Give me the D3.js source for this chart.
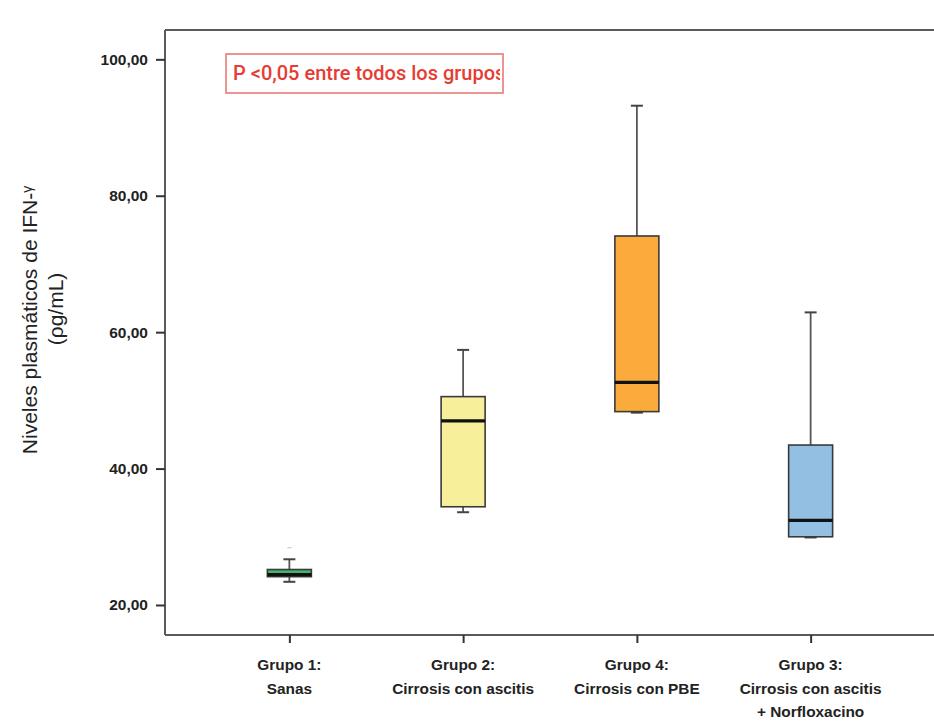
<!DOCTYPE html>
<html>
<head>
<meta charset="utf-8">
<script src="https://cdn.jsdelivr.net/npm/d3@7"></script>
<style>
  html, body { margin: 0; padding: 0; background: #fff; }
  svg { display: block; }
</style>
</head>
<body>
<svg id="chart" width="934" height="722"></svg>
<script>
// Plasma IFN-gamma levels by group (box plot summaries, pg/mL)
const groups = ["Grupo 1", "Grupo 2", "Grupo 4", "Grupo 3"];
const groupLabels = [
  ["Grupo 1:", "Sanas"],
  ["Grupo 2:", "Cirrosis con ascitis"],
  ["Grupo 4:", "Cirrosis con PBE"],
  ["Grupo 3:", "Cirrosis con ascitis", "+ Norfloxacino"]
];
const whiskerLow  = [23.4, 33.6, 48.2, 29.9];
const q1          = [24.15, 34.4, 48.35, 30.0];
const median      = [24.45, 47.0, 52.65, 32.4];
const q3          = [25.2, 50.55, 74.1, 43.45];
const whiskerHigh = [26.7, 57.4, 93.2, 62.9];
const outliers    = [[28.4], [], [], []];
const boxColors   = ["#46b36b", "#f7ef9a", "#fbab3c", "#93bfe2"];
const yTicks      = [20, 40, 60, 80, 100];
const annotation  = "P <0,05 entre todos los grupos";

const svg = d3.select("#chart");
const plot = { left: 165, right: 934, top: 30, bottom: 635 };

const y = d3.scaleLinear().domain([15.6, 104.3]).range([plot.bottom, plot.top]);
const x = d3.scalePoint().domain(groups).range([166, plot.right]).padding(0.71);

const esFormat = d3.formatLocale({ decimal: ",", thousands: ".", grouping: [3], currency: ["", ""] }).format(".2f");

// Frame: top rule
svg.append("line").attr("x1", plot.left).attr("x2", plot.right).attr("y1", plot.top).attr("y2", plot.top)
  .attr("stroke", "#5a5a5a").attr("stroke-width", 2);

// Y axis
const yAxis = svg.append("g")
  .attr("transform", `translate(${plot.left},0)`)
  .call(d3.axisLeft(y).tickValues(yTicks).tickFormat(esFormat).tickSize(9).tickSizeOuter(0));
yAxis.select(".domain").attr("stroke", "#5a5a5a").attr("stroke-width", 2)
  .attr("d", `M0,${plot.top}V${plot.bottom}`);
yAxis.selectAll(".tick line").attr("stroke", "#333").attr("stroke-width", 2);
yAxis.selectAll(".tick text")
  .attr("x", -17)
  .attr("font-family", "Arial, 'Liberation Sans', sans-serif")
  .attr("font-weight", "bold").attr("font-size", 15.5).attr("fill", "#222");

// X axis
const xAxis = svg.append("g")
  .attr("transform", `translate(0,${plot.bottom})`)
  .call(d3.axisBottom(x).tickSize(8).tickSizeOuter(0).tickFormat(""));
xAxis.select(".domain").attr("stroke", "#5a5a5a").attr("stroke-width", 2)
  .attr("d", `M${plot.left},0H${plot.right}`);
xAxis.selectAll(".tick line").attr("stroke", "#333").attr("stroke-width", 2);

// Category labels in a narrow bold face, sized so the longest line spans ~142px
const labelFont = "'Liberation Sans Narrow', 'Arial Narrow', Arial, sans-serif";
const probe = svg.append("text").attr("font-family", labelFont).attr("font-weight", "bold")
  .attr("font-size", 15).text("Cirrosis con ascitis");
const probeW = probe.node().getComputedTextLength();
probe.remove();
const labelSize = Math.min(18, 15 * 142 / probeW);

const labelG = svg.append("g")
  .attr("font-family", labelFont)
  .attr("font-weight", "bold").attr("font-size", labelSize).attr("fill", "#222")
  .attr("text-anchor", "middle");
groups.forEach((g, i) => {
  const t = labelG.append("text").attr("x", x(g)).attr("y", 670);
  groupLabels[i].forEach((line, j) => {
    t.append("tspan").attr("x", x(g)).attr("dy", j === 0 ? 0 : 23.5).text(line);
  });
});

// Boxes
const boxW = 44, capW = 12;
const boxes = svg.append("g");
groups.forEach((g, i) => {
  const cx = x(g);
  const b = boxes.append("g");
  // whiskers
  b.append("line").attr("x1", cx).attr("x2", cx)
    .attr("y1", y(q3[i])).attr("y2", y(whiskerHigh[i]))
    .attr("stroke", "#555").attr("stroke-width", 1.8);
  b.append("line").attr("x1", cx).attr("x2", cx)
    .attr("y1", y(q1[i])).attr("y2", y(whiskerLow[i]))
    .attr("stroke", "#555").attr("stroke-width", 1.8);
  b.append("line").attr("x1", cx - capW / 2).attr("x2", cx + capW / 2)
    .attr("y1", y(whiskerHigh[i])).attr("y2", y(whiskerHigh[i]))
    .attr("stroke", "#444").attr("stroke-width", 2);
  b.append("line").attr("x1", cx - capW / 2).attr("x2", cx + capW / 2)
    .attr("y1", y(whiskerLow[i])).attr("y2", y(whiskerLow[i]))
    .attr("stroke", "#444").attr("stroke-width", 2);
  // box
  b.append("rect")
    .attr("x", cx - boxW / 2).attr("width", boxW)
    .attr("y", y(q3[i])).attr("height", y(q1[i]) - y(q3[i]))
    .attr("fill", boxColors[i]).attr("stroke", "#3a3a3a").attr("stroke-width", 1.6);
  // median
  b.append("line").attr("x1", cx - boxW / 2).attr("x2", cx + boxW / 2)
    .attr("y1", y(median[i])).attr("y2", y(median[i]))
    .attr("stroke", "#111").attr("stroke-width", 3.2);
  // outliers
  outliers[i].forEach(v => {
    b.append("line").attr("x1", cx - 2).attr("x2", cx + 2)
      .attr("y1", y(v)).attr("y2", y(v))
      .attr("stroke", "#c8c8c8").attr("stroke-width", 1.2);
  });
});

// Y axis title
const titleG = svg.append("g")
  .attr("font-family", "Arial, 'Liberation Sans', sans-serif")
  .attr("font-size", 21).attr("fill", "#222").attr("text-anchor", "middle");
const t1 = titleG.append("text").attr("transform", "translate(37,320) rotate(-90)");
t1.append("tspan").text("Niveles plasmáticos de IFN-");
t1.append("tspan").attr("font-size", 14).attr("dy", -5).text("γ");
titleG.append("text").attr("transform", "translate(63,309) rotate(-90)").text("(ρg/mL)");

// Significance note
const note = { x: 226, y: 54, w: 277, h: 39 };
svg.append("clipPath").attr("id", "noteClip")
  .append("rect").attr("x", note.x).attr("y", note.y).attr("width", note.w - 3).attr("height", note.h);
svg.append("rect").attr("x", note.x).attr("y", note.y).attr("width", note.w).attr("height", note.h)
  .attr("fill", "#fff").attr("stroke", "#e77b76").attr("stroke-width", 1.6);
svg.append("text").attr("clip-path", "url(#noteClip)")
  .attr("x", note.x + 7).attr("y", note.y + 26)
  .attr("font-family", "Roboto, 'Noto Sans', sans-serif").attr("font-weight", 500)
  .attr("font-size", 20).attr("fill", "#e63c33")
  .text(annotation);
</script>
</body>
</html>
